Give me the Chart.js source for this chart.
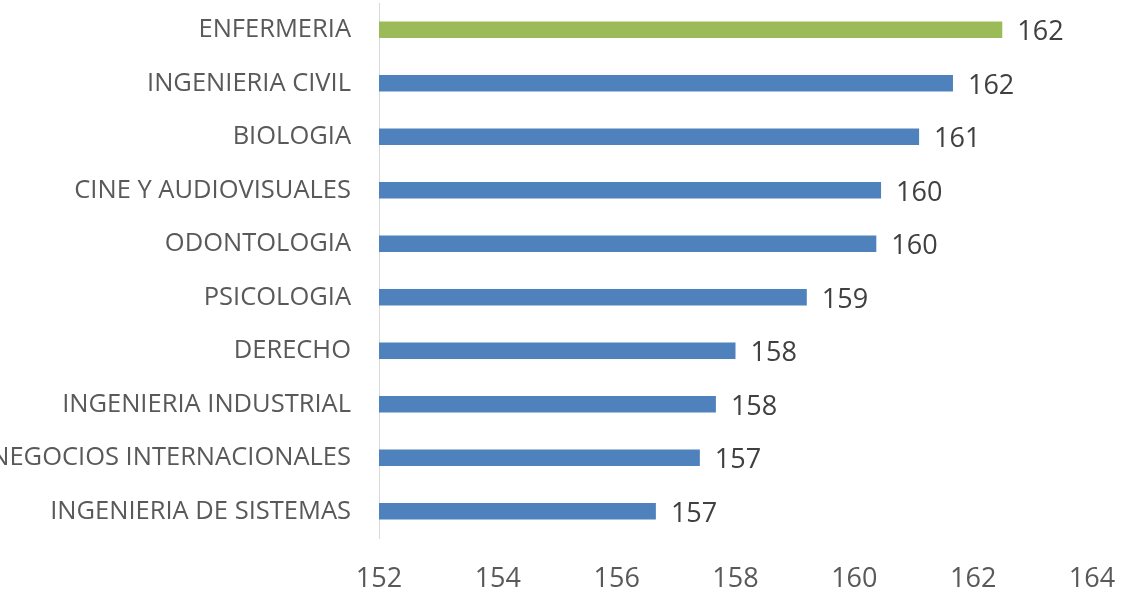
<!DOCTYPE html>
<html>
<head>
<meta charset="utf-8">
<script src="https://cdn.jsdelivr.net/npm/chart.js@4/dist/chart.umd.min.js"></script>
<style>
  html, body { margin: 0; padding: 0; background: #fff; }
  #wrap { width: 1127px; height: 596px; position: relative; }
</style>
</head>
<body>
<div id="wrap"><canvas id="chart"></canvas></div>
<script>
// ─── data ───
const categories = ['ENFERMERIA', 'INGENIERIA CIVIL', 'BIOLOGIA', 'CINE Y AUDIOVISUALES', 'ODONTOLOGIA',
  'PSICOLOGIA', 'DERECHO', 'INGENIERIA INDUSTRIAL', 'NEGOCIOS INTERNACIONALES', 'INGENIERIA DE SISTEMAS'];
const values = [162.49, 161.66, 161.09, 160.45, 160.37, 159.2, 158.0, 157.67, 157.4, 156.66];
const xTicks = [152, 154, 156, 158, 160, 162, 164];

const green = '#9BBB59';
const blue = '#4F81BD';
const textColor = '#595959';

// ─── value labels at the bar ends ───
const barLabels = {
  id: 'barLabels',
  afterDatasetsDraw(chart) {
    const ctx = chart.ctx;
    const meta = chart.getDatasetMeta(0);
    ctx.save();
    ctx.font = '27px "Open Sans"';
    ctx.fillStyle = '#404040';
    ctx.textAlign = 'left';
    ctx.textBaseline = 'middle';
    meta.data.forEach((bar, i) => {
      ctx.fillText(Math.round(values[i]), bar.x + 15, bar.y + 3);
    });
    ctx.restore();
  }
};

new Chart(document.getElementById('chart'), {
  type: 'bar',
  data: {
    labels: categories,
    datasets: [{
      data: values,
      backgroundColor: categories.map((c, i) => i === 0 ? green : blue),
      barPercentage: 0.31,
      categoryPercentage: 1,
      base: xTicks[0]
    }]
  },
  options: {
    indexAxis: 'y',
    responsive: true, maintainAspectRatio: false,
    animation: false,
    layout: { padding: { top: 3, right: 35, left: 0, bottom: 0 } },
    plugins: { legend: { display: false }, tooltip: { enabled: false } },
    scales: {
      x: {
        min: xTicks[0], max: xTicks[xTicks.length - 1],
        afterBuildTicks: s => { s.ticks = xTicks.map(v => ({ value: v })); },
        afterFit: s => { s.height = 58; s.paddingLeft = 0; s.paddingRight = 0; },
        grid: { display: false, drawTicks: false },
        border: { display: false },
        ticks: { color: textColor, font: { family: 'Open Sans', size: 27 }, padding: 25, maxRotation: 0 }
      },
      y: {
        afterFit: s => { s.width = 379; s.paddingTop = 0; s.paddingBottom = 0; },
        grid: { display: false, drawTicks: false },
        border: { display: true, color: '#D9D9D9', width: 1 },
        ticks: { color: textColor, font: { family: 'Open Sans', size: 25.5 }, padding: 28, autoSkip: false }
      }
    }
  },
  plugins: [barLabels]
});
</script>
</body>
</html>
